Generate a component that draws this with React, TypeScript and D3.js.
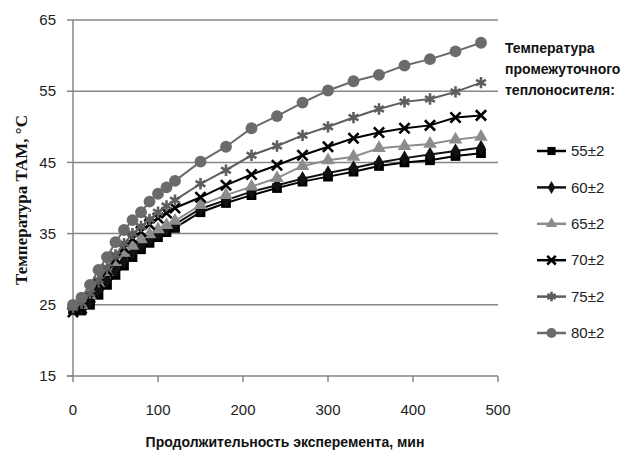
import * as d3 from 'd3'

const times = [0, 10, 20, 30, 40, 50, 60, 70, 80, 90, 100, 110, 120, 150, 180, 210, 240, 270, 300, 330, 360, 390, 420, 450, 480]

const t55 = [24.4, 24.2, 25.0, 26.4, 27.8, 29.2, 30.5, 31.7, 32.8, 33.7, 34.5, 35.2, 35.8, 38.0, 39.3, 40.4, 41.4, 42.3, 43.0, 43.7, 44.5, 45.0, 45.3, 45.9, 46.3]
const t60 = [24.6, 24.6, 25.5, 27.0, 28.5, 29.9, 31.2, 32.3, 33.3, 34.2, 35.0, 35.7, 36.3, 38.5, 39.7, 40.9, 41.8, 42.7, 43.5, 44.2, 45.0, 45.6, 46.1, 46.6, 47.1]
const t65 = [24.8, 25.0, 26.3, 28.0, 29.6, 31.0, 32.3, 33.3, 34.2, 34.9, 35.6, 36.2, 36.8, 39.0, 40.4, 41.6, 42.8, 44.5, 45.3, 45.8, 47.0, 47.3, 47.6, 48.2, 48.6]
const t70 = [24.0, 24.5, 26.0, 28.0, 29.8, 31.5, 33.0, 34.3, 35.3, 36.3, 37.2, 37.9, 38.6, 40.1, 41.8, 43.3, 44.6, 46.0, 47.2, 48.4, 49.2, 49.8, 50.2, 51.3, 51.6]
const t75 = [24.6, 25.2, 26.6, 28.5, 30.2, 32.0, 33.6, 35.0, 36.0, 37.0, 38.0, 38.9, 39.7, 42.0, 43.9, 46.0, 47.3, 48.8, 50.0, 51.3, 52.5, 53.5, 53.9, 54.9, 56.2]
const t80 = [25.0, 26.0, 27.8, 29.9, 31.7, 33.8, 35.5, 36.9, 38.0, 39.5, 40.6, 41.5, 42.4, 45.1, 47.2, 49.8, 51.5, 53.4, 55.1, 56.4, 57.3, 58.6, 59.5, 60.6, 61.8]

const seriesNames = ['55±2', '60±2', '65±2', '70±2', '75±2', '80±2']
const seriesValues = [t55, t60, t65, t70, t75, t80]

const xTicks = [0, 100, 200, 300, 400, 500]
const yTicks = [15, 25, 35, 45, 55, 65]

const legendTitle = ['Температура', 'промежуточного', 'теплоносителя:']

const colors = ['#000000', '#111111', '#8c8c8c', '#000000', '#5e5e5e', '#6b6b6b']
const symbols = [d3.symbolSquare, d3.symbolDiamond, d3.symbolTriangle, d3.symbolX, d3.symbolAsterisk, d3.symbolCircle]
const sizes = [95, 70, 80, 70, 90, 110]
const stroked = [false, false, false, true, true, false]

const W = 625
const H = 456
const narrow = '"Liberation Sans Narrow", "Arial Narrow", "Liberation Sans", sans-serif'

const Marker = ({ i, x, y, k = 1 }: { i: number; x: number; y: number; k?: number }) => {
  const path = d3.symbol().type(symbols[i]).size(sizes[i] * k)() || ''
  return stroked[i] ? (
    <path d={path} transform={`translate(${x},${y})`} fill="none" stroke={colors[i]} strokeWidth={2.6} />
  ) : (
    <path d={path} transform={`translate(${x},${y})`} fill={colors[i]} />
  )
}

export default function App() {
  const x = d3.scaleLinear().domain([0, 500]).range([73, 498])
  const y = d3.scaleLinear().domain([15, 65]).range([376, 20])

  const line = d3
    .line<number>()
    .x((_, j) => x(times[j]))
    .y((v) => y(v))

  const legendY = d3.scaleLinear().domain([0, 5]).range([151, 333])

  return (
    <svg width={W} height={H} style={{ position: 'absolute', left: 0, top: 0, background: '#fff' }}>
      {/* gridlines */}
      {yTicks.slice(1).map((t) => (
        <line key={t} x1={x(0)} x2={x(500)} y1={y(t)} y2={y(t)} stroke="#878787" strokeWidth={1.5} />
      ))}
      {/* axes */}
      <line x1={x(0)} x2={x(0)} y1={y(65)} y2={y(15)} stroke="#878787" strokeWidth={1.5} />
      <line x1={x(0) - 6} x2={x(500)} y1={y(15)} y2={y(15)} stroke="#878787" strokeWidth={1.5} />
      {yTicks.map((t) => (
        <g key={t}>
          <line x1={x(0) - 6} x2={x(0)} y1={y(t)} y2={y(t)} stroke="#878787" strokeWidth={1.5} />
          <text x={56} y={y(t)} dy="0.35em" textAnchor="end" fontFamily={narrow} fontSize={15} fill="#222">
            {t}
          </text>
        </g>
      ))}
      {xTicks.map((t) => (
        <g key={t}>
          <line x1={x(t)} x2={x(t)} y1={y(15)} y2={y(15) + 6} stroke="#878787" strokeWidth={1.5} />
          <text x={x(t)} y={410} dy="0.35em" textAnchor="middle" fontFamily={narrow} fontSize={15} fill="#222">
            {t}
          </text>
        </g>
      ))}

      {/* series */}
      {seriesValues.map((vals, i) => (
        <g key={seriesNames[i]}>
          <path d={line(vals) || ''} fill="none" stroke={colors[i]} strokeWidth={2} />
          {vals.map((v, j) => (
            <Marker key={j} i={i} x={x(times[j])} y={y(v)} />
          ))}
        </g>
      ))}

      {/* axis titles */}
      <text
        transform="translate(27,200) rotate(-90)"
        textAnchor="middle"
        fontFamily='"Liberation Serif", "Times New Roman", serif'
        fontWeight="bold"
        fontSize={17}
        fill="#111"
      >
        Температура ТАМ, °С
      </text>
      <text x={285} y={442} dy="0.35em" textAnchor="middle" fontFamily={narrow} fontWeight="bold" fontSize={14} fill="#111">
        Продолжительность эксперемента, мин
      </text>

      {/* legend */}
      {legendTitle.map((s, k) => (
        <text key={s} x={505} y={48 + k * 21} dy="0.35em" fontFamily={narrow} fontWeight="bold" fontSize={14} fill="#111">
          {s}
        </text>
      ))}
      {seriesNames.map((name, i) => {
        const ly = legendY(i)
        return (
          <g key={name}>
            <line x1={537} x2={566} y1={ly} y2={ly} stroke={colors[i]} strokeWidth={2.5} />
            <Marker i={i} x={551.5} y={ly} k={0.7} />
            <text x={571} y={ly} dy="0.35em" fontFamily={narrow} fontSize={15} fill="#222">
              {name}
            </text>
          </g>
        )
      })}
    </svg>
  )
}
